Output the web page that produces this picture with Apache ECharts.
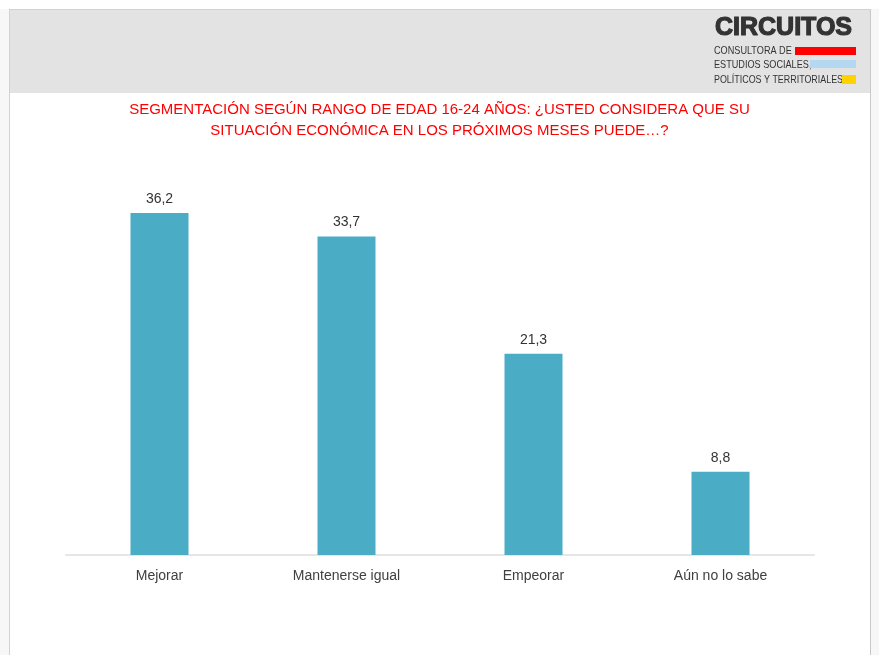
<!DOCTYPE html>
<html>
<head>
<meta charset="utf-8">
<script src="https://cdn.jsdelivr.net/npm/echarts@6/dist/echarts.min.js"></script>
<style>
html,body{margin:0;padding:0;background:#fff;}
#c{width:879px;height:655px;}
</style>
</head>
<body>
<div id="c"></div>
<script>
const categories = ['Mejorar', 'Mantenerse igual', 'Empeorar', 'Aún no lo sabe'];
const values = [36.2, 33.7, 21.3, 8.8];
const titleLines = [
  'SEGMENTACIÓN SEGÚN RANGO DE EDAD 16-24 AÑOS: ¿USTED CONSIDERA QUE SU',
  'SITUACIÓN ECONÓMICA EN LOS PRÓXIMOS MESES PUEDE…?'
];

const FONT = "'Liberation Sans', Arial, Helvetica, sans-serif";
const chart = echarts.init(document.getElementById('c'), null, {renderer: 'canvas'});
chart.setOption({
  backgroundColor: '#ffffff',
  animation: false,
  title: {
    text: titleLines.join('\n'),
    left: 'center',
    top: 94,
    textStyle: {color: '#ff0000', fontSize: 15, fontWeight: 'normal', fontFamily: FONT, lineHeight: 21}
  },
  graphic: [
    {type: 'rect', z: -10, shape: {x: 0, y: 9, width: 9, height: 646}, style: {fill: '#f7f7f7'}},
    {type: 'rect', z: -10, shape: {x: 871, y: 9, width: 8, height: 646}, style: {fill: '#f7f7f7'}},
    {type: 'rect', z: -9, shape: {x: 10, y: 10, width: 860, height: 83}, style: {fill: '#e3e3e3'}},
    {type: 'line', z: -8, shape: {x1: 9, y1: 9.5, x2: 871, y2: 9.5}, style: {stroke: '#d2d2d2', lineWidth: 1}},
    {type: 'line', z: -8, shape: {x1: 9.5, y1: 9, x2: 9.5, y2: 655}, style: {stroke: '#d2d2d2', lineWidth: 1}},
    {type: 'line', z: -8, shape: {x1: 870.5, y1: 9, x2: 870.5, y2: 655}, style: {stroke: '#c8c8c8', lineWidth: 1}},
    {type: 'text', z: 5, x: 715, y: 16, scaleX: 1.0, style: {x: 0, y: 0, text: 'CIRCUITOS', fill: '#333333', stroke: '#333333', lineWidth: 1.2, font: "bold 25px " + FONT}},
    {type: 'text', z: 5, x: 714, y: 45, scaleX: 0.83, style: {x: 0, y: 0, text: 'CONSULTORA DE', fill: '#333333', font: "11px " + FONT}},
    {type: 'rect', z: 6, shape: {x: 795, y: 47, width: 61, height: 8}, style: {fill: '#ff0000'}},
    {type: 'text', z: 5, x: 714, y: 59, scaleX: 0.83, style: {x: 0, y: 0, text: 'ESTUDIOS SOCIALES,', fill: '#333333', font: "11px " + FONT}},
    {type: 'rect', z: 6, shape: {x: 810, y: 60, width: 46, height: 8}, style: {fill: '#b4d7f2'}},
    {type: 'text', z: 5, x: 714, y: 74, scaleX: 0.81, style: {x: 0, y: 0, text: 'POLÍTICOS Y TERRITORIALES', fill: '#333333', font: "11px " + FONT}},
    {type: 'rect', z: 6, shape: {x: 842, y: 75, width: 14, height: 9}, style: {fill: '#ffd200'}}
  ],
  grid: {left: 66, right: 65, top: 177, bottom: 100, containLabel: false},
  xAxis: {
    type: 'category',
    data: categories,
    axisLine: {lineStyle: {color: '#e6e6e6', width: 2}},
    axisTick: {show: false},
    axisLabel: {color: '#404040', fontSize: 14, fontFamily: FONT, margin: 14}
  },
  yAxis: {
    type: 'value', min: 0, max: 40, interval: 10,
    show: false,
    splitLine: {show: false}
  },
  series: [{
    type: 'bar',
    data: values,
    barWidth: 58,
    itemStyle: {color: '#4bacc6'},
    label: {
      show: true,
      position: 'top',
      distance: 7,
      color: '#333333',
      fontSize: 14,
      fontFamily: FONT,
      formatter: p => String(p.value).replace('.', ',')
    }
  }]
});
</script>
</body>
</html>
